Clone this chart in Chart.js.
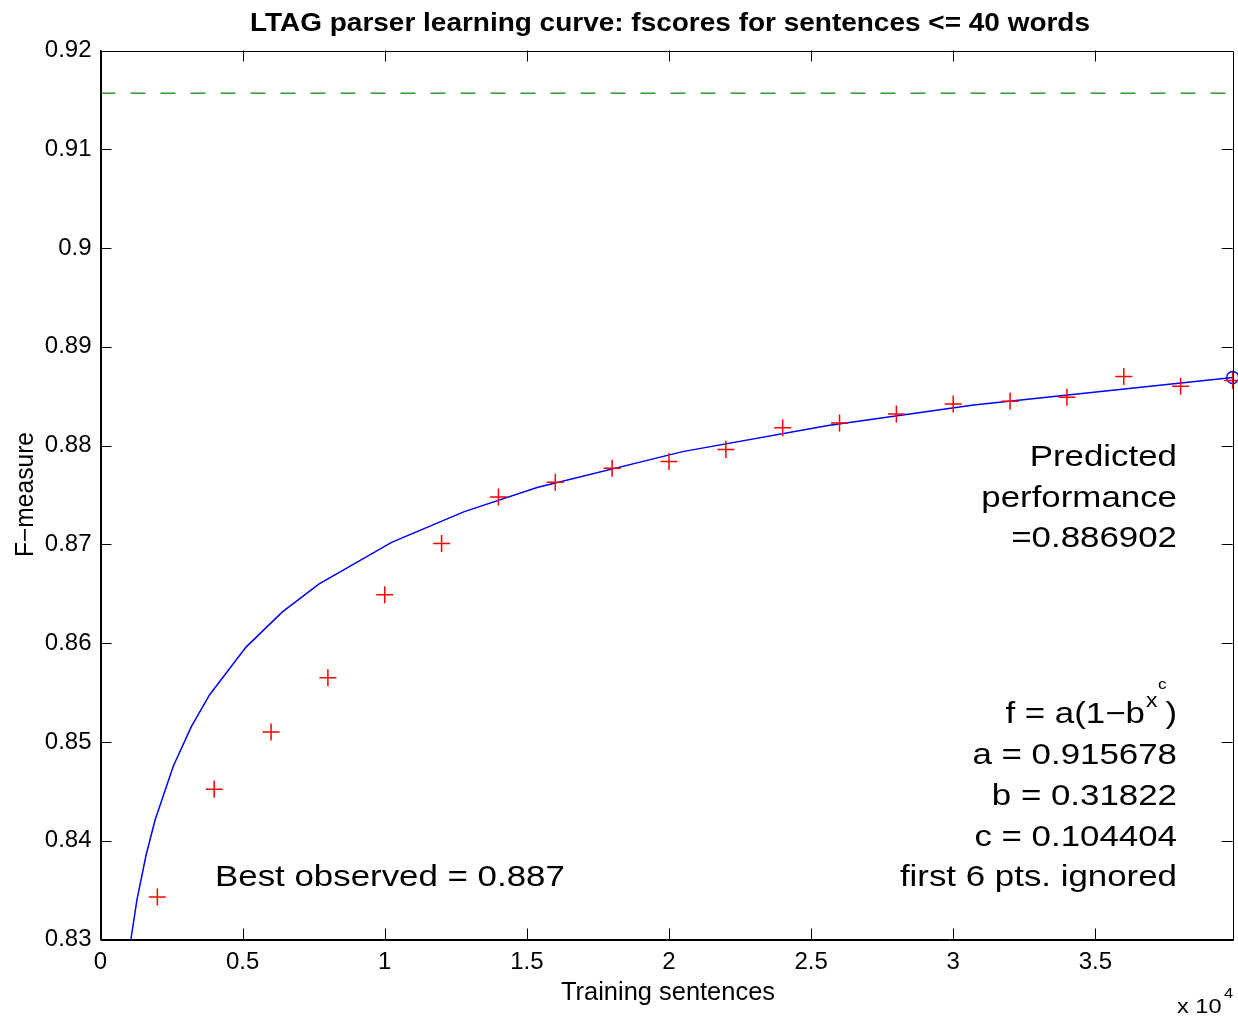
<!DOCTYPE html>
<html>
<head>
<meta charset="utf-8">
<script src="https://cdn.jsdelivr.net/npm/chart.js@4.4.1/dist/chart.umd.min.js"></script>
<style>
  html, body { margin: 0; padding: 0; background: #ffffff; }
  #wrap { width: 1238px; height: 1018px; position: relative; }
</style>
</head>
<body>
<div id="wrap"><canvas id="chart" width="1238" height="1018"></canvas></div>
<script>
// Training set sizes (sentences) and observed F-measure for sentences <= 40 words
const trainSizes = [2000, 4000, 6000, 8000, 10000, 12000, 14000, 16000, 18000, 20000,
                    22000, 24000, 26000, 28000, 30000, 32000, 34000, 36000, 38000, 39832];
const fscores    = [0.8343, 0.8452, 0.8510, 0.8565, 0.8649, 0.8701, 0.8748, 0.8763, 0.8777, 0.8784,
                    0.8796, 0.8818, 0.8823, 0.8832, 0.8842, 0.8845, 0.8849, 0.8870, 0.8860, 0.8866];

// Fitted learning curve f = a(1 - b^(x^c)), sampled points of the plotted polyline
const fitX = [960, 1280, 1600, 1920, 2560, 3200, 3840, 5120, 6400, 7680,
              10240, 12800, 15360, 20480, 25600, 30720, 39832];
const fitY = [0.82793, 0.83398, 0.83850, 0.84209, 0.84754, 0.85158, 0.85478, 0.85960, 0.86317, 0.86598,
              0.87021, 0.87332, 0.87575, 0.87939, 0.88204, 0.88411, 0.88690];

// Asymptote (a) and predicted performance at the full training set
const asymptoteX = [0, 39832];
const asymptoteY = [0.915678, 0.915678];
const predictedX = [39832];
const predictedY = [0.886902];

// Axis ticks
const xTickValues = [0, 5000, 10000, 15000, 20000, 25000, 30000, 35000];
const xTickLabels = ['0', '0.5', '1', '1.5', '2', '2.5', '3', '3.5'];
const yTickValues = [0.83, 0.84, 0.85, 0.86, 0.87, 0.88, 0.89, 0.90, 0.91, 0.92];
const yTickLabels = ['0.83', '0.84', '0.85', '0.86', '0.87', '0.88', '0.89', '0.9', '0.91', '0.92'];

const FONT = '"Liberation Sans", Arial, Helvetica, sans-serif';

const toPoints = (xs, ys) => xs.map((x, i) => ({ x: x, y: ys[i] }));

// Draw text with an optional horizontal stretch; align is 'left' | 'right' | 'center'
function drawText(ctx, text, x, y, font, align, sx) {
  ctx.save();
  ctx.font = font;
  const w = ctx.measureText(text).width * sx;
  let left = x;
  if (align === 'right') left = x - w;
  else if (align === 'center') left = x - w / 2;
  ctx.translate(left, y);
  ctx.scale(sx, 1);
  ctx.textAlign = 'left';
  ctx.textBaseline = 'alphabetic';
  ctx.fillStyle = '#000000';
  ctx.fillText(text, 0, 0);
  ctx.restore();
  return w;
}

// Stretch factor so that text fills a given width
function fitScale(ctx, text, font, width) {
  ctx.save();
  ctx.font = font;
  const w = ctx.measureText(text).width;
  ctx.restore();
  return width / w;
}

const framePlugin = {
  id: 'frameAndText',
  afterDraw(chart) {
    const ctx = chart.ctx;
    const a = chart.chartArea;
    const xs = chart.scales.x, ys = chart.scales.y;
    const tick = 11;

    // Box and inward tick marks on all four sides
    ctx.save();
    ctx.strokeStyle = '#000000';
    ctx.lineWidth = 1;
    ctx.beginPath();
    ctx.rect(Math.round(a.left) + 0.5, Math.round(a.top) + 0.5,
             Math.round(a.right) - Math.round(a.left), Math.round(a.bottom) - Math.round(a.top));
    xs.ticks.forEach(t => {
      const px = Math.round(xs.getPixelForValue(t.value)) + 0.5;
      ctx.moveTo(px, a.bottom); ctx.lineTo(px, a.bottom - tick);
      ctx.moveTo(px, a.top); ctx.lineTo(px, a.top + tick);
    });
    ys.ticks.forEach(t => {
      const py = Math.round(ys.getPixelForValue(t.value)) + 0.5;
      ctx.moveTo(a.left, py); ctx.lineTo(a.left + tick, py);
      ctx.moveTo(a.right, py); ctx.lineTo(a.right - tick, py);
    });
    ctx.stroke();
    ctx.restore();

    // Title
    const titleText = 'LTAG parser learning curve: fscores for sentences <= 40 words';
    const titleFont = 'bold 26px ' + FONT;
    drawText(ctx, titleText, 670, 31, titleFont, 'center', fitScale(ctx, titleText, titleFont, 840));

    // Axis titles
    const axFont = '25px ' + FONT;
    drawText(ctx, 'Training sentences', 668, 1000, axFont, 'center', fitScale(ctx, 'Training sentences', axFont, 214));
    ctx.save();
    ctx.translate(33, 494.5);
    ctx.rotate(-Math.PI / 2);
    drawText(ctx, 'F\u2212measure', 0, 0, axFont, 'center', fitScale(ctx, 'F\u2212measure', axFont, 125));
    ctx.restore();

    // Exponent of the x axis
    drawText(ctx, 'x 10', 1177, 1012.5, '21px ' + FONT, 'left', 1.12);
    drawText(ctx, '4', 1224, 997.5, '15px ' + FONT, 'left', 1.1);

    // Annotations
    const aFont = '29.3px ' + FONT;
    const sx = 1.19;
    const R = 1177;
    drawText(ctx, 'Predicted', R, 466, aFont, 'right', sx);
    drawText(ctx, 'performance', R, 506.5, aFont, 'right', sx);
    drawText(ctx, '=0.886902', R, 546.5, aFont, 'right', sx);

    drawText(ctx, ')', R, 723, aFont, 'right', sx);
    drawText(ctx, 'x', R - 31, 707, '20px ' + FONT, 'left', 1.15);
    drawText(ctx, 'c', R - 19, 689, '15px ' + FONT, 'left', 1.15);
    drawText(ctx, 'f = a(1\u2212b', R - 32, 723, aFont, 'right', sx);

    drawText(ctx, 'a = 0.915678', R, 763.5, aFont, 'right', sx);
    drawText(ctx, 'b = 0.31822', R, 804.5, aFont, 'right', sx);
    drawText(ctx, 'c = 0.104404', R, 845.5, aFont, 'right', sx);
    drawText(ctx, 'first 6 pts. ignored', R, 885.5, aFont, 'right', sx);

    drawText(ctx, 'Best observed = 0.887', 215, 886, aFont, 'left', sx);
  }
};

new Chart(document.getElementById('chart'), {
  type: 'scatter',
  data: {
    datasets: [
      {
        label: 'observed',
        data: toPoints(trainSizes, fscores),
        pointStyle: 'cross',
        pointRadius: 8.5,
        pointBorderWidth: 1.5,
        borderColor: '#ff0000',
        backgroundColor: '#ff0000',
        showLine: false,
        clip: false
      },
      {
        label: 'fit',
        data: toPoints(fitX, fitY),
        showLine: true,
        borderColor: '#0000ff',
        borderWidth: 1.5,
        pointRadius: 0,
        tension: 0
      },
      {
        label: 'predicted',
        data: toPoints(predictedX, predictedY),
        pointStyle: 'circle',
        pointRadius: 6,
        pointBorderWidth: 1.4,
        borderColor: '#0000ff',
        backgroundColor: 'rgba(0,0,0,0)',
        showLine: false,
        clip: false
      },
      {
        label: 'asymptote',
        data: toPoints(asymptoteX, asymptoteY),
        showLine: true,
        borderColor: 'rgb(60,165,60)',
        borderWidth: 1.6,
        borderDash: [15, 15],
        pointRadius: 0
      }
    ]
  },
  options: {
    responsive: false,
    animation: false,
    devicePixelRatio: 1,
    layout: { autoPadding: false, padding: { top: 50.5, right: 5.3, bottom: 0, left: 0 } },
    plugins: { legend: { display: false }, tooltip: { enabled: false }, title: { display: false } },
    events: [],
    scales: {
      x: {
        type: 'linear',
        position: 'bottom',
        min: 0,
        max: 39832,
        grid: { display: false, drawTicks: false },
        border: { display: true, color: '#000000', width: 1 },
        afterBuildTicks: s => { s.ticks = xTickValues.map(v => ({ value: v })); },
        afterFit: s => { s.height = 78.5; },
        ticks: {
          autoSkip: false,
          maxRotation: 0,
          includeBounds: false,
          padding: 8,
          color: '#000000',
          font: { family: FONT, size: 24 },
          callback: (v, i) => xTickLabels[i]
        }
      },
      y: {
        type: 'linear',
        position: 'left',
        min: 0.83,
        max: 0.92,
        grid: { display: false, drawTicks: false },
        border: { display: true, color: '#000000', width: 1 },
        afterBuildTicks: s => { s.ticks = yTickValues.map(v => ({ value: v })); },
        afterFit: s => { s.width = 100.5; },
        ticks: {
          autoSkip: false,
          padding: 9,
          color: '#000000',
          font: { family: FONT, size: 24 },
          callback: (v, i) => yTickLabels[i]
        }
      }
    }
  },
  plugins: [framePlugin]
});
</script>
</body>
</html>
